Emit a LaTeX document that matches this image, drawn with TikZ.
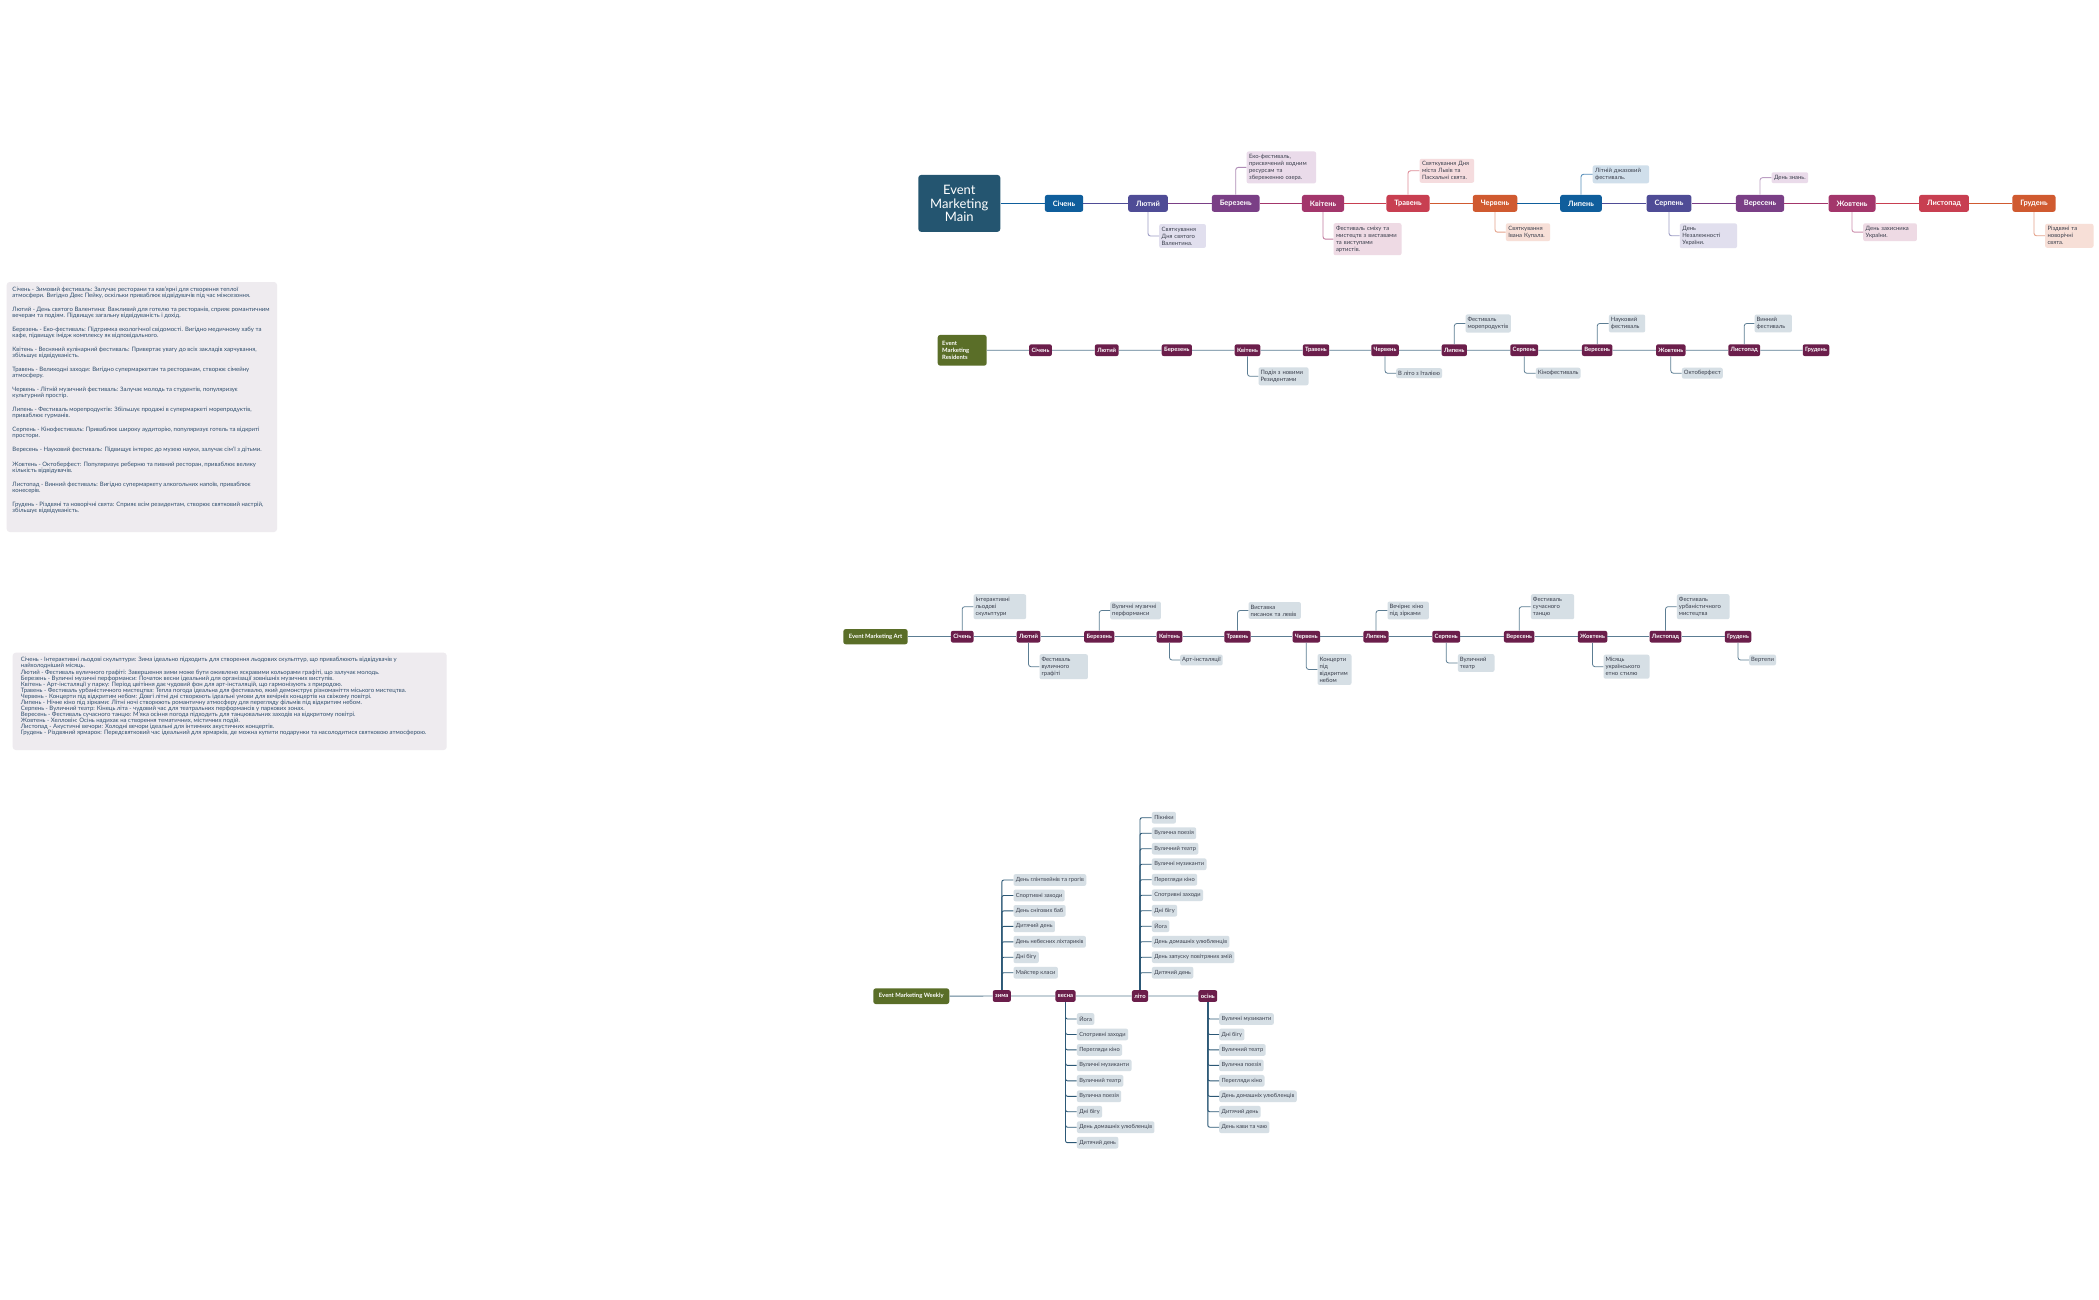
\documentclass[tikz,border=0pt]{standalone}
\usepackage{fontspec}
\setmainfont{Lato}
\definecolor{cBlue}{HTML}{0F5E9C}
\definecolor{cSlate}{HTML}{4F4C96}
\definecolor{cPurp}{HTML}{7A3F86}
\definecolor{cRasp}{HTML}{A3366B}
\definecolor{cRed}{HTML}{C83F51}
\definecolor{cOrng}{HTML}{D05A30}
\definecolor{cMainBox}{HTML}{245570}
\definecolor{cOlive}{HTML}{5A6E28}
\definecolor{cMaroon}{HTML}{6B1E4B}
\definecolor{cSteel}{HTML}{5C7D93}
\definecolor{cTrunk}{HTML}{2C5876}
\definecolor{cCallBg}{HTML}{D6DFE5}
\definecolor{cText}{HTML}{3A3F4C}
\definecolor{cNote}{HTML}{2F4E6D}
\definecolor{cNoteBg}{HTML}{EEEBEF}
\definecolor{lBlue}{HTML}{D0DFEB}
\definecolor{lSlate}{HTML}{E1DFEE}
\definecolor{lPurp}{HTML}{EADBEA}
\definecolor{lRasp}{HTML}{EEDAE4}
\definecolor{lRed}{HTML}{F5DCDE}
\definecolor{lOrng}{HTML}{F7DFD7}
\tikzset{
 mainbox/.style={fill=cMainBox, rounded corners=3, minimum width=82, minimum height=57, align=center, text=white, font=\fontsize{13}{13.8}\selectfont, inner sep=0},
 mmonth/.style={rounded corners=2.5, minimum height=17, inner xsep=8, inner ysep=0, text=white, font=\fontsize{7.4}{8}\selectfont\bfseries},
 mline/.style={line width=1.3},
 mcall/.style={anchor=west, rounded corners=2, inner xsep=2.5, inner ysep=2.8, align=left, text=cText, font=\fontsize{5.9}{7}\selectfont},
 mconn/.style={line width=0.9, rounded corners=2.5},
 greenbox/.style={fill=cOlive, rounded corners=2.5, text=white, font=\fontsize{5.9}{7.2}\selectfont\bfseries},
 smonth/.style={fill=cMaroon, rounded corners=2, minimum height=11.7, inner xsep=2.4, inner ysep=0, text=white, font=\fontsize{5.9}{6.5}\selectfont\bfseries},
 sline/.style={draw=cSteel, line width=0.9},
 scall/.style={anchor=west, fill=cCallBg, rounded corners=2, inner xsep=2, inner ysep=2.8, align=left, text=cText, font=\fontsize{5.9}{7}\selectfont},
 sconn/.style={draw=cSteel, line width=0.8, rounded corners=2.5},
 wconn/.style={draw=cTrunk, line width=0.9, rounded corners=2},
 wcall/.style={anchor=west, fill=cCallBg, rounded corners=2, minimum height=11.7, inner xsep=2.4, inner ysep=0, text=cText, font=\fontsize{5.7}{6.5}\selectfont},
 notebox/.style={fill=cNoteBg, rounded corners=3},
 notetext/.style={anchor=north west, inner sep=0, align=left, text=cNote},
}
\begin{document}
\begin{tikzpicture}[x=1pt,y=-1pt]
\useasboundingbox (0,0) rectangle (2099,1300);
\fill[white] (0,0) rectangle (2099,1300);

% ---------------- Main timeline ----------------
\node[mainbox] (mmain) at (959.3,203.4) {Event\\Marketing\\Main};
\foreach \n/\x/\t/\c in {1/1064/Січень/cBlue,2/1148/Лютий/cSlate,3/1235.7/Березень/cPurp,4/1323/Квітень/cRasp,5/1408/Травень/cRed,6/1495/Червень/cOrng,7/1581/Липень/cBlue,8/1669/Серпень/cSlate,9/1760/Вересень/cPurp,10/1852/Жовтень/cRasp,11/1944/Листопад/cRed,12/2034/Грудень/cOrng}
  {\node[mmonth, fill=\c] (m\n) at (\x,203.4) {\t};}
\draw[mline, cBlue] (mmain.east) -- (m1.west);
\foreach \a/\b/\c in {1/2/cSlate,2/3/cPurp,3/4/cRasp,4/5/cRed,5/6/cOrng,6/7/cBlue,7/8/cSlate,8/9/cPurp,9/10/cRasp,10/11/cRed,11/12/cOrng}
  {\draw[mline, \c] (m\a.east) -- (m\b.west);}

\node[mcall, fill=lSlate, text width=41.7] (c2) at (1159,236) {Святкування\\Дня святого\\Валентина.};
\node[mcall, fill=lPurp, text width=64.5] (c3) at (1246.4,167.4) {Еко-фестиваль,\\присвячений водним\\ресурсам та\\збереженню озера.};
\node[mcall, fill=lRasp, text width=63] (c4) at (1333.3,239.2) {Фестиваль сміху та\\мистецтв з виставами\\та виступами\\артистів.};
\node[mcall, fill=lRed, text width=49.6] (c5) at (1419.4,170.8) {Святкування Дня\\міста Львів та\\Пасхальні свята.};
\node[mcall, fill=lOrng, text width=39.2] (c6) at (1505.7,232.2) {Святкування\\Івана Купала.};
\node[mcall, fill=lBlue, text width=51.4] (c7) at (1592.5,174.3) {Літній джазовий\\фестиваль.};
\node[mcall, fill=lSlate, text width=52.2] (c8) at (1679.6,235.8) {День\\Незалежності\\України.};
\node[mcall, fill=lPurp] (c9) at (1771.3,177.7) {День знань.};
\node[mcall, fill=lRasp, text width=48.7] (c10) at (1863,232.2) {День захисника\\України.};
\node[mcall, fill=lOrng, text width=43.4] (c12) at (2044.9,235.8) {Різдвяні та\\новорічні\\свята.};
\draw[mconn, cSlate!55] (m2.south) |- (c2.west);
\draw[mconn, cPurp!60] (m3.north) |- (c3.west);
\draw[mconn, cRasp!65] (m4.south) |- (c4.west);
\draw[mconn, cRed!60] (m5.north) |- (c5.west);
\draw[mconn, cOrng!55] (m6.south) |- (c6.west);
\draw[mconn, cBlue!70] (m7.north) |- (c7.west);
\draw[mconn, cSlate!55] (m8.south) |- (c8.west);
\draw[mconn, cPurp!50] (m9.north) |- (c9.west);
\draw[mconn, cRasp!55] (m10.south) |- (c10.west);
\draw[mconn, cOrng!55] (m12.south) |- (c12.west);

% ---------------- Residents ----------------
\node[greenbox, minimum width=49, minimum height=30.7, text width=40, align=left, inner xsep=4.5, inner ysep=0] (rmain) at (962.2,350.3) {Event\\Marketing\\Residents};
\foreach \x/\t [count=\i] in {1040.5/Січень,1106.7/Лютий,1176.8/Березень,1247.5/Квітень,1316/Травень,1385/Червень,1454.3/Липень,1524.2/Серпень,1597.2/Вересень,1670.8/Жовтень,1744.2/Листопад,1816/Грудень}
  {\node[smonth] (r\i) at (\x,350.2) {\t};}
\draw[sline] (rmain) -- (r1) -- (r2) -- (r3) -- (r4) -- (r5) -- (r6) -- (r7) -- (r8) -- (r9) -- (r10) -- (r11) -- (r12);
\node[scall, text width=46] (rc4) at (1258.3,376.3) {Подія з новими\\Резидентами};
\node[scall] (rc6) at (1396,373.2) {В літо з Італією};
\node[scall, text width=41.4] (rc7) at (1465.3,323.5) {Фестиваль\\морепродуктів};
\node[scall] (rc8) at (1535.7,373.2) {Кінофестиваль};
\node[scall, text width=32.3] (rc9) at (1608.7,323.5) {Науковий\\фестиваль};
\node[scall] (rc10) at (1681.7,373.2) {Октоберфест};
\node[scall, text width=33.4] (rc11) at (1754.3,323.5) {Винний\\фестиваль};
\draw[sconn] (r4.south) |- (rc4.west);
\draw[sconn] (r6.south) |- (rc6.west);
\draw[sconn] (r7.north) |- (rc7.west);
\draw[sconn] (r8.south) |- (rc8.west);
\draw[sconn] (r9.north) |- (rc9.west);
\draw[sconn] (r10.south) |- (rc10.west);
\draw[sconn] (r11.north) |- (rc11.west);

% ---------------- Art ----------------
\node[greenbox, minimum width=64.4, minimum height=15.3, inner sep=0] (amain) at (875.5,636.7) {Event Marketing Art};
\foreach \x/\t [count=\i] in {962.2/Січень,1028.5/Лютий,1099.2/Березень,1169.5/Квітень,1237.5/Травень,1306.3/Червень,1376/Липень,1446.2/Серпень,1519.2/Вересень,1592.5/Жовтень,1665.5/Листопад,1738/Грудень}
  {\node[smonth] (a\i) at (\x,636.7) {\t};}
\draw[sline] (amain) -- (a1) -- (a2) -- (a3) -- (a4) -- (a5) -- (a6) -- (a7) -- (a8) -- (a9) -- (a10) -- (a11) -- (a12);
\node[scall, text width=48.7] (ac1) at (973.3,606.7) {Інтерактивні\\льодові\\скульптури};
\node[scall, text width=44.4] (ac2) at (1039.3,666.7) {Фестиваль\\вуличного\\графіті};
\node[scall, text width=46.7] (ac3) at (1110,610.5) {Вуличні музичні\\перформанси};
\node[scall] (ac4) at (1180,660) {Арт-інсталяції};
\node[scall, text width=48.4] (ac5) at (1248.3,610.5) {Виставка\\писанок та левів};
\node[scall, text width=30] (ac6) at (1317.3,669.5) {Концерти\\під\\відкритим\\небом};
\node[scall, text width=37.4] (ac7) at (1387.3,610.5) {Вечірнє кіно\\під зірками};
\node[scall, text width=32.6] (ac8) at (1457.7,663) {Вуличний\\театр};
\node[scall, text width=39.3] (ac9) at (1530.7,606.7) {Фестиваль\\сучасного\\танцю};
\node[scall, text width=42] (ac10) at (1603.3,666.7) {Місяць\\українського\\етно стилю};
\node[scall, text width=48.6] (ac11) at (1676.7,606.7) {Фестиваль\\урбаністичного\\мистецтва};
\node[scall] (ac12) at (1749,660) {Вертепи};
\foreach \i/\p in {1/north,2/south,3/north,4/south,5/north,6/south,7/north,8/south,9/north,10/south,11/north,12/south}
  {\draw[sconn] (a\i.\p) |- (ac\i.west);}

% ---------------- Weekly ----------------
\node[greenbox, minimum width=76, minimum height=15.7, inner sep=0] (wmain) at (911.3,996.2) {Event Marketing Weekly};
\foreach \x/\t [count=\i] in {1001.8/зима,1065.5/весна,1140/літо,1207.8/осінь}
  {\node[smonth] (w\i) at (\x,996) {\t};}
\draw[sline] (wmain) -- (w1) -- (w2) -- (w3) -- (w4);
\foreach \t [count=\i] in {День глінтвейнів та грогів,Спортивні заходи,День снігових баб,Дитячий день,День небесних ліхтариків,Дні бігу,Майстер класи}
  {\node[wcall] (wz\i) at (1013.3,{880+(\i-1)*15.45}) {\t};
   \draw[wconn] (w1.north) |- (wz\i.west);}
\foreach \t [count=\i] in {Йога,Спотривні заходи,Перегляди кіно,Вуличні музиканти,Вуличний театр,Вулична поезія,Дні бігу,День домашніх улюбленців,Дитячий день}
  {\node[wcall] (wv\i) at (1076.7,{1019+(\i-1)*15.46}) {\t};
   \draw[wconn] (w2.south) |- (wv\i.west);}
\foreach \t [count=\i] in {Пікніки,Вулична поезія,Вуличний театр,Вуличні музиканти,Перегляди кіно,Спотривні заходи,Дні бігу,Йога,День домашніх улюбленців,День запуску повітряних змій,Дитячий день}
  {\node[wcall] (wl\i) at (1151.7,{817.7+(\i-1)*15.5}) {\t};
   \draw[wconn] (w3.north) |- (wl\i.west);}
\foreach \t [count=\i] in {Вуличні музиканти,Дні бігу,Вуличний театр,Вулична поезія,Перегляди кіно,День домашніх улюбленців,Дитячий день,День кави та чаю}
  {\node[wcall] (wo\i) at (1219,{1019+(\i-1)*15.46}) {\t};
   \draw[wconn] (w4.south) |- (wo\i.west);}

% ---------------- Note boxes ----------------
\fill[notebox] (6.7,282) rectangle (277,532);
\node[notetext, font=\fontsize{6}{6.35}\selectfont] (t1) at (12.3,286.4) {%
Січень - Зимовий фестиваль: Залучає ресторани та кав'ярні для створення теплої\\
атмосфери. Вигідно Декс Пейку, оскільки приваблює відвідувачів під час міжсезоння.\\[7.3pt]
Лютий - День святого Валентина: Важливий для готелю та ресторанів, сприяє романтичним\\
вечерам та подіям. Підвищує загальну відвідуваність і дохід.\\[7.3pt]
Березень - Еко-фестиваль: Підтримка екологічної свідомості. Вигідно медичному хабу та\\
кафе, підвищує імідж комплексу як відповідального.\\[7.3pt]
Квітень - Весняний кулінарний фестиваль: Привертає увагу до всіх закладів харчування,\\
збільшує відвідуваність.\\[7.3pt]
Травень - Великодні заходи: Вигідно супермаркетам та ресторанам, створює сімейну\\
атмосферу.\\[7.3pt]
Червень - Літній музичний фестиваль: Залучає молодь та студентів, популяризує\\
культурний простір.\\[7.3pt]
Липень - Фестиваль морепродуктів: Збільшує продажі в супермаркеті морепродуктів,\\
приваблює гурманів.\\[7.3pt]
Серпень - Кінофестиваль: Приваблює широку аудиторію, популяризує готель та відкриті\\
простори.\\[7.3pt]
Вересень - Науковий фестиваль: Підвищує інтерес до музею науки, залучає сім'ї з дітьми.\\[8.5pt]
Жовтень - Октоберфест: Популяризує реберню та пивний ресторан, приваблює велику\\
кількість відвідувачів.\\[7.3pt]
Листопад - Винний фестиваль: Вигідно супермаркету алкогольних напоїв, приваблює\\
конесерів.\\[7.3pt]
Грудень - Різдвяні та новорічні свята: Сприяє всім резидентам, створює святковий настрій,\\
збільшує відвідуваність.};

\fill[notebox] (12.7,652.7) rectangle (446.7,750);
\node[notetext, font=\fontsize{6}{6.06}\selectfont] (t2) at (20.7,657.3) {%
Січень - Інтерактивні льодові скульптури: Зима ідеально підходить для створення льодових скульптур, що приваблюють відвідувачів у\\
найхолодніший місяць.\\
Лютий - Фестиваль вуличного графіті: Завершення зими може бути оживлено яскравими кольорами графіті, що залучає молодь.\\
Березень - Вуличні музичні перформанси: Початок весни ідеальний для організації зовнішніх музичних виступів.\\
Квітень - Арт-інсталяції у парку: Період цвітіння дає чудовий фон для арт-інсталяцій, що гармонізують з природою.\\
Травень - Фестиваль урбаністичного мистецтва: Тепла погода ідеальна для фестивалю, який демонструє різноманіття міського мистецтва.\\
Червень - Концерти під відкритим небом: Довгі літні дні створюють ідеальні умови для вечірніх концертів на свіжому повітрі.\\
Липень - Нічне кіно під зірками: Літні ночі створюють романтичну атмосферу для перегляду фільмів під відкритим небом.\\
Серпень - Вуличний театр: Кінець літа - чудовий час для театральних перформансів у паркових зонах.\\
Вересень - Фестиваль сучасного танцю: М'яка осіння погода підходить для танцювальних заходів на відкритому повітрі.\\
Жовтень - Хелловін: Осінь надихає на створення тематичних, містичних подій.\\
Листопад - Акустичні вечори: Холодні вечори ідеальні для інтимних акустичних концертів.\\
Грудень - Різдвяний ярмарок: Передсвятковий час ідеальний для ярмарків, де можна купити подарунки та насолодитися святковою атмосферою.};
\end{tikzpicture}
\end{document}
